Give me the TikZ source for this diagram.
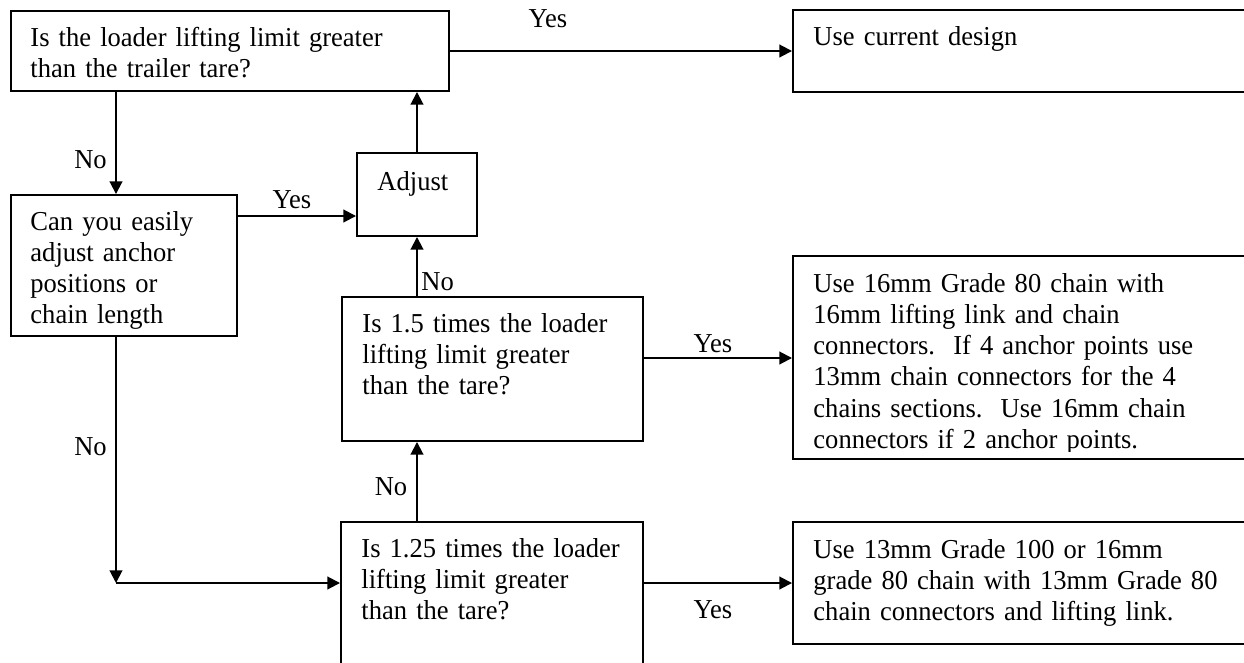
\documentclass[tikz,border=0pt]{standalone}
\usepackage{fontspec}
\setmainfont[FakeStretch=0.97]{Liberation Serif}
\usetikzlibrary{arrows.meta,fit}
\begin{document}
\begin{tikzpicture}[x=0.4386pt,y=-0.4386pt,
  box/.style={draw, line width=0.85pt, inner sep=0pt},
  txt/.style={anchor=base west, inner sep=0pt, align=left, text width=300pt, font=\fontsize{12pt}{13.73pt}\selectfont},
  lbl/.style={anchor=base, inner sep=0pt, font=\fontsize{12pt}{13.73pt}\selectfont},
  arr/.style={line width=0.85pt, -{Triangle[length=5.5pt,width=5.5pt]}},
  ln/.style={line width=0.85pt}]
\useasboundingbox (0,0) rectangle (1244,662);
\clip (0,0) rectangle (1244,662);

% boxes
\node[box, fit={(11,11) (449,91)}] (q1) {};
\node[box, fit={(793,10) (1270,92)}] (r1) {};
\node[box, fit={(11,195) (237,336)}] (q2) {};
\node[box, fit={(357,153) (477,236)}] (adj) {};
\node[box, fit={(342,297) (643,441)}] (q3) {};
\node[box, fit={(793,256) (1270,459)}] (r2) {};
\node[box, fit={(341,522) (643,700)}] (q4) {};
\node[box, fit={(793,522) (1270,644)}] (r3) {};

% texts
\node[txt] (q1t) at (30,46) {Is the loader lifting limit greater\\than the trailer tare?};
\node[txt] (r1t) at (813,45) {Use current design};
\node[txt] (q2t) at (30,230) {Can you easily\\adjust anchor\\positions or\\chain length};
\node[txt] (adjt) at (377,190) {Adjust};
\node[txt] (q3t) at (362,332) {Is 1.5 times the loader\\lifting limit greater\\than the tare?};
\begin{scope}
\clip (r2.north west) rectangle (1270,451);
\node[txt] (r2t) at (813,292) {Use 16mm Grade 80 chain with\\16mm lifting link and chain\\connectors.\ \ If 4 anchor points use\\13mm chain connectors for the 4\\chains sections.\ \ Use 16mm chain\\connectors if 2 anchor points.};
\end{scope}
\node[txt] (q4t) at (361,557) {Is 1.25 times the loader\\lifting limit greater\\than the tare?};
\node[txt] (r3t) at (813,558) {Use 13mm Grade 100 or 16mm\\grade 80 chain with 13mm Grade 80\\chain connectors and lifting link.};

% connectors
\coordinate (corner) at (116,583);
\draw[arr] (q1.east) -- (r1.west);
\draw[arr] (116,0 |- q1.south) -- (116,0 |- q2.north);
\draw[arr] (q2.east |- 0,216) -- (adj.west |- 0,216);
\draw[arr] (adj.north) -- (adj.north |- q1.south);
\draw[arr] (adj.south |- q3.north) -- (adj.south);
\draw[arr] (q3.east |- 0,358) -- (r2.west |- 0,358);
\draw[arr] (adj.south |- q4.north) -- (adj.south |- q3.south);
\draw[arr] (116,0 |- q2.south) -- (corner);
\draw[arr] (corner) -- (q4.west |- corner);
\draw[arr] (q4.east |- corner) -- (r3.west);

% labels
\node[lbl] (y1) at (548,27) {Yes};
\node[lbl] (y2) at (292,208) {Yes};
\node[lbl] (y3) at (713,352) {Yes};
\node[lbl] (y4) at (713,618) {Yes};
\node[lbl] (n1) at (90.5,168) {No};
\node[lbl, anchor=base west] (n2) at (421,290) {No};
\node[lbl] (n3) at (391,495) {No};
\node[lbl] (n4) at (90.5,455) {No};
\end{tikzpicture}
\end{document}
